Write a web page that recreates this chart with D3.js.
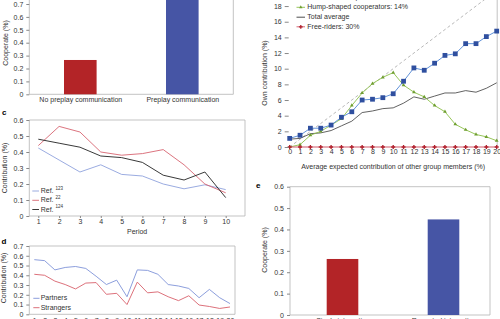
<!DOCTYPE html>
<html><head><meta charset="utf-8">
<script src="https://cdnjs.cloudflare.com/ajax/libs/d3/7.8.5/d3.min.js"></script>
<style>body{margin:0;background:#fff}svg{display:block;font-family:"Liberation Sans",Arial,sans-serif}</style>
</head><body><svg id="chart" width="500" height="319"></svg>
<script>
// ---- Panel a (top-left) ----
const aCategories = ["No preplay communication", "Preplay communication"];
const aValues = [0.266, 0.80];
const aTicks = [0, 0.1, 0.2, 0.3, 0.4, 0.5, 0.6, 0.7];

// ---- Panel b (top-right) ----
const bX = [0,1,2,3,4,5,6,7,8,9,10,11,12,13,14,15,16,17,18,19,20];
const bConditional = [1.1,1.5,2.4,2.4,2.8,3.8,4.5,6.0,6.1,6.3,6.8,8.4,10.1,9.8,10.7,11.7,11.9,13.2,13.2,14.1,14.8];
const bHump = [0,0.3,1.5,2.0,2.8,3.6,5.3,6.9,8.1,8.9,9.5,7.9,7.0,6.4,5.3,4.5,2.9,2.2,1.6,1.3,0.8];
const bTotal = [1.0,1.1,1.7,1.8,2.1,2.7,3.3,4.4,4.6,4.9,5.0,5.6,6.4,6.1,6.5,6.9,6.9,7.2,7.0,7.5,8.2];
const bFree = [0,0,0,0,0,0,0,0,0,0,0,0,0,0,0,0,0,0,0,0,0];
const bDiagonal = [0, 20];
const bYTicks = [0,2,4,6,8,10,12,14,16,18];
const bLegend = ["Conditional cooperators: 55%", "Hump-shaped cooperators: 14%", "Total average", "Free-riders: 30%"];

// ---- Panel c ----
const cPeriods = [1,2,3,4,5,6,7,8,9,10];
const cRef123 = [0.425,0.35,0.275,0.32,0.26,0.25,0.20,0.17,0.195,0.165];
const cRef22 = [0.44,0.56,0.525,0.40,0.38,0.39,0.415,0.32,0.20,0.145];
const cRef124 = [0.48,0.455,0.43,0.375,0.365,0.335,0.255,0.225,0.275,0.115];
const cTicks = [0,0.1,0.2,0.3,0.4,0.5,0.6];
const cLegend = [["Ref. ", "123"], ["Ref. ", "22"], ["Ref. ", "124"]];

// ---- Panel d ----
const dPeriods = [1,2,3,4,5,6,7,8,9,10,11,12,13,14,15,16,17,18,19,20];
const dPartners = [0.56,0.55,0.455,0.48,0.49,0.47,0.39,0.305,0.35,0.18,0.455,0.45,0.41,0.305,0.29,0.265,0.17,0.255,0.17,0.11];
const dStrangers = [0.41,0.40,0.34,0.305,0.26,0.32,0.325,0.205,0.215,0.10,0.33,0.22,0.23,0.18,0.14,0.19,0.095,0.08,0.06,0.075];
const dTicks = [0,0.1,0.2,0.3,0.4,0.5,0.6,0.7];
const dLegend = ["Partners", "Strangers"];

// ---- Panel e ----
const eCategories = ["Single interaction", "Repeated interaction"];
const eValues = [0.262, 0.447];
const eTicks = [0,0.1,0.2,0.3,0.4,0.5,0.6];

const svg = d3.select("#chart");
const FONT = '"Liberation Sans", Arial, sans-serif';
const BOX = "#b4b4b4";
const TXT = "#333";
const fmt1 = d => d === 0 ? "0" : d3.format(".1f")(d);

function styleAxis(ax, removeDomain = true) {
  ax.attr("font-family", FONT).attr("font-size", 7);
  if (removeDomain) ax.select(".domain").remove();
  ax.selectAll("line").attr("stroke", "#888");
  ax.selectAll("text").attr("fill", TXT);
}
function boxLines(g, x0, x1, y0, y1, sides) {
  const segs = {left: [x0, y0, x0, y1], right: [x1, y0, x1, y1], top: [x0, y0, x1, y0], bottom: [x0, y1, x1, y1]};
  sides.forEach(s => {
    const c = segs[s];
    g.append("line").attr("x1", c[0]).attr("y1", c[1]).attr("x2", c[2]).attr("y2", c[3])
      .attr("stroke", BOX).attr("stroke-width", 0.8);
  });
}
function yLabel(g, x, y, text) {
  g.append("text").attr("transform", `translate(${x},${y}) rotate(-90)`)
    .attr("text-anchor", "middle").attr("dominant-baseline", "middle")
    .attr("font-family", FONT).attr("font-size", 7).attr("fill", TXT).text(text);
}
function panelLetter(x, y, t) {
  svg.append("text").attr("x", x).attr("y", y).attr("font-family", FONT)
    .attr("font-weight", "bold").attr("font-size", 8).attr("fill", "#000").text(t);
}

// ================= Panel a =================
{
  const g = svg.append("g");
  const x0 = 29.3, x1 = 233.3, yb = 94.3;
  const y = d3.scaleLinear().domain([0, 0.8]).range([yb, yb - 103.2]);
  const x = d3.scalePoint().domain(aCategories).range([x0, x1]).padding(0.5);
  boxLines(g, x0, x1, -10, yb, ["left", "right", "bottom"]);
  const colors = ["#b32427", "#4655a5"];
  g.selectAll("rect.bar").data(aValues).join("rect")
    .attr("x", (d, i) => x(aCategories[i]) - 16.3).attr("width", 32.6)
    .attr("y", d => y(d)).attr("height", d => yb - y(d))
    .attr("fill", (d, i) => colors[i]);
  const ay = g.append("g").attr("transform", `translate(${x0},0)`)
    .call(d3.axisLeft(y).tickValues(aTicks).tickFormat(fmt1).tickSize(3).tickPadding(3));
  styleAxis(ay);
  const ax = g.append("g").attr("transform", `translate(0,${yb})`)
    .call(d3.axisBottom(x).tickSize(0).tickPadding(3));
  styleAxis(ax);
  yLabel(g, 6, 43, "Cooperate (%)");
}

// ================= Panel b =================
{
  const g = svg.append("g");
  const x = d3.scaleLinear().domain([0, 20]).range([289.7, 496.7]);
  const y = d3.scaleLinear().domain([0, 20]).range([147, 147 - 156.6]);
  boxLines(g, x(0), 497.2, -10, 147, ["right"]);
  g.append("path").datum(bDiagonal)
    .attr("d", d3.line().x(d => x(d)).y(d => y(d)))
    .attr("stroke", "#9a9a9a").attr("stroke-width", 0.7).attr("stroke-dasharray", "3,2.5").attr("fill", "none");
  const line = d3.line().x((d, i) => x(bX[i])).y(d => y(d));
  g.append("path").datum(bTotal).attr("d", line).attr("fill", "none").attr("stroke", "#3a3a3a").attr("stroke-width", 0.8);
  g.append("path").datum(bHump).attr("d", line).attr("fill", "none").attr("stroke", "#8cc04a").attr("stroke-width", 0.9);
  g.selectAll("path.tri").data(bHump).join("path").attr("class", "tri")
    .attr("transform", (d, i) => `translate(${x(bX[i])},${y(d)})`)
    .attr("d", d3.symbol(d3.symbolTriangle, 6)).attr("fill", "#6f9e30");
  g.append("path").datum(bConditional).attr("d", line).attr("fill", "none").attr("stroke", "#4f86d4").attr("stroke-width", 0.9);
  g.selectAll("rect.sq").data(bConditional).join("rect").attr("class", "sq")
    .attr("x", (d, i) => x(bX[i]) - 2.4).attr("y", d => y(d) - 2.4)
    .attr("width", 4.8).attr("height", 4.8).attr("fill", "#2f4f9f");
  g.append("path").datum(bFree).attr("d", line).attr("fill", "none").attr("stroke", "#d05a6a").attr("stroke-width", 1.2);
  g.selectAll("path.cr").data(bFree).join("path").attr("class", "cr")
    .attr("transform", (d, i) => `translate(${x(bX[i])},${y(d)})`)
    .attr("d", d3.symbol(d3.symbolCross, 9)).attr("fill", "#b0202c");
  const ay = g.append("g").attr("transform", `translate(${x(0) - 1},0)`)
    .call(d3.axisLeft(y).tickValues(bYTicks).tickFormat(d3.format("d")).tickSize(4).tickPadding(3));
  styleAxis(ay);
  const ax = g.append("g").attr("transform", `translate(0,${y(0)})`)
    .call(d3.axisBottom(x).tickValues(bX).tickFormat(d3.format("d")).tickSize(0).tickPadding(2.5));
  styleAxis(ax);
  g.append("text").attr("x", (x(0) + x(20)) / 2).attr("y", 167).attr("text-anchor", "middle")
    .attr("dominant-baseline", "middle").attr("font-family", FONT).attr("font-size", 7).attr("fill", TXT)
    .text("Average expected contribution of other group members (%)");
  yLabel(g, 265, 73, "Own contribution (%)");
  const ly = [-2.5, 7.3, 17.2, 26.8];
  const lc = ["#4f86d4", "#8cc04a", "#3a3a3a", "#d05a6a"];
  bLegend.forEach((t, i) => {
    g.append("line").attr("x1", 296.5).attr("x2", 305).attr("y1", ly[i]).attr("y2", ly[i])
      .attr("stroke", lc[i]).attr("stroke-width", 0.9);
    if (i === 0) g.append("rect").attr("x", 298.8).attr("y", ly[i] - 2).attr("width", 4).attr("height", 4).attr("fill", "#2f4f9f");
    if (i === 1) g.append("path").attr("transform", `translate(300.8,${ly[i]})`).attr("d", d3.symbol(d3.symbolTriangle, 5)).attr("fill", "#6f9e30");
    if (i === 3) g.append("path").attr("transform", `translate(300.8,${ly[i]})`).attr("d", d3.symbol(d3.symbolCross, 8)).attr("fill", "#b0202c");
    g.append("text").attr("x", 307.3).attr("y", ly[i]).attr("dominant-baseline", "middle")
      .attr("font-family", FONT).attr("font-size", 7).attr("fill", TXT).text(t);
  });
}

// ================= Panel c =================
{
  const g = svg.append("g");
  const x0 = 29.3, x1 = 245, yt = 120, yb = 216;
  const y = d3.scaleLinear().domain([0, 0.6]).range([yb, yt]);
  const x = d3.scaleLinear().domain([1, 10]).range([38.3, 225.7]);
  boxLines(g, x0, x1, yt, yb, ["left", "right", "top", "bottom"]);
  const line = d3.line().x((d, i) => x(cPeriods[i])).y(d => y(d));
  const series = [[cRef123, "#8ea2dc"], [cRef22, "#d76470"], [cRef124, "#222"]];
  series.forEach(([s, c]) => g.append("path").datum(s).attr("d", line).attr("fill", "none").attr("stroke", c).attr("stroke-width", 0.9));
  const ay = g.append("g").attr("transform", `translate(${x0},0)`)
    .call(d3.axisLeft(y).tickValues(cTicks).tickFormat(fmt1).tickSize(3).tickPadding(3));
  styleAxis(ay);
  const ax = g.append("g").attr("transform", `translate(0,${yb})`)
    .call(d3.axisBottom(x).tickValues(cPeriods).tickFormat(d3.format("d")).tickSize(2).tickPadding(1.5));
  styleAxis(ax);
  g.append("text").attr("x", (x0 + x1) / 2).attr("y", 232).attr("text-anchor", "middle")
    .attr("dominant-baseline", "middle").attr("font-family", FONT).attr("font-size", 7).attr("fill", TXT).text("Period");
  yLabel(g, 5, 168, "Contribution (%)");
  const ly = [191, 200.3, 209.5];
  cLegend.forEach((t, i) => {
    g.append("line").attr("x1", 32.3).attr("x2", 39).attr("y1", ly[i]).attr("y2", ly[i])
      .attr("stroke", series[i][1]).attr("stroke-width", 0.9);
    const tx = g.append("text").attr("x", 40.7).attr("y", ly[i]).attr("dominant-baseline", "middle")
      .attr("font-family", FONT).attr("font-size", 7).attr("fill", TXT);
    tx.append("tspan").text(t[0]);
    tx.append("tspan").attr("font-size", 4.5).attr("dy", -2.5).text(t[1]);
  });
}

// ================= Panel d =================
{
  const g = svg.append("g");
  const x0 = 29.3, x1 = 235, yt = 246, yb = 314.3;
  const y = d3.scaleLinear().domain([0, 0.7]).range([yb, yt]);
  const x = d3.scaleLinear().domain([1, 20]).range([34.3, 230]);
  boxLines(g, x0, x1, yt, yb, ["left", "right", "top", "bottom"]);
  const line = d3.line().x((d, i) => x(dPeriods[i])).y(d => y(d));
  const series = [[dPartners, "#7f93d8"], [dStrangers, "#d8616c"]];
  series.forEach(([s, c]) => g.append("path").datum(s).attr("d", line).attr("fill", "none").attr("stroke", c).attr("stroke-width", 0.9));
  const ay = g.append("g").attr("transform", `translate(${x0},0)`)
    .call(d3.axisLeft(y).tickValues(dTicks).tickFormat(fmt1).tickSize(3).tickPadding(3));
  styleAxis(ay);
  const ax = g.append("g").attr("transform", `translate(0,${yb})`)
    .call(d3.axisBottom(x).tickValues(dPeriods).tickFormat(d3.format("d")).tickSize(0).tickPadding(4));
  styleAxis(ax);
  yLabel(g, 4.5, 278, "Contribution (%)");
  const ly = [298.3, 307.7];
  dLegend.forEach((t, i) => {
    g.append("line").attr("x1", 33.3).attr("x2", 39.5).attr("y1", ly[i]).attr("y2", ly[i])
      .attr("stroke", series[i][1]).attr("stroke-width", 0.9);
    g.append("text").attr("x", 40.7).attr("y", ly[i]).attr("dominant-baseline", "middle")
      .attr("font-family", FONT).attr("font-size", 7).attr("fill", TXT).text(t);
  });
}

// ================= Panel e =================
{
  const g = svg.append("g");
  const x0 = 290, x1 = 490, yt = 186.7, yb = 315;
  const y = d3.scaleLinear().domain([0, 0.6]).range([yb, yt]);
  const x = d3.scalePoint().domain(eCategories).range([292, 494]).padding(0.5);
  boxLines(g, x0, x1, yt, yb, ["left", "right", "top", "bottom"]);
  const colors = ["#b32427", "#4655a5"];
  g.selectAll("rect.bar").data(eValues).join("rect")
    .attr("x", (d, i) => x(eCategories[i]) - 15.8).attr("width", 31.6)
    .attr("y", d => y(d)).attr("height", d => yb - y(d))
    .attr("fill", (d, i) => colors[i]);
  const ay = g.append("g").attr("transform", `translate(${x0},0)`)
    .call(d3.axisLeft(y).tickValues(eTicks).tickFormat(fmt1).tickSize(3).tickPadding(3));
  styleAxis(ay);
  const ax = g.append("g").attr("transform", `translate(0,${yb})`)
    .call(d3.axisBottom(x).tickSize(0).tickPadding(3.5));
  styleAxis(ax);
  yLabel(g, 265, 250, "Cooperate (%)");
}

panelLetter(2, 115, "c");
panelLetter(1.5, 244, "d");
panelLetter(256, 188, "e");
</script>
</body></html>
